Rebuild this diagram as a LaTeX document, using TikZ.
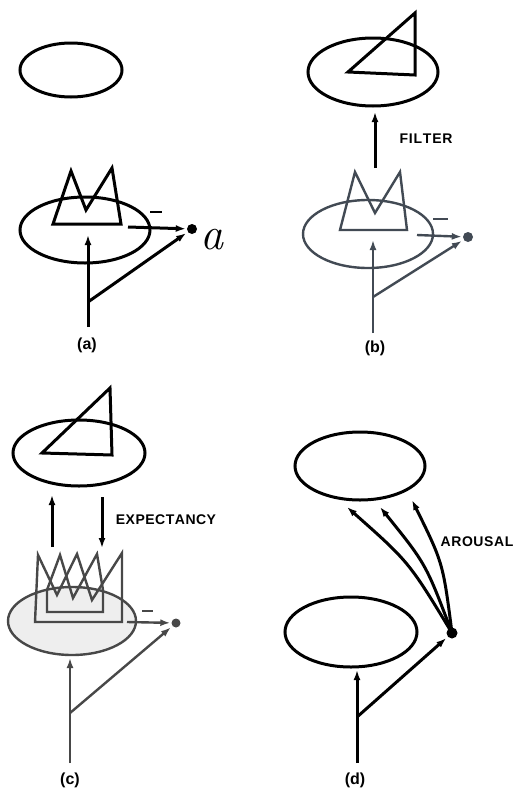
\documentclass[tikz,border=0pt]{standalone}
\usepackage{fontspec}
\setsansfont{Liberation Sans}
\usetikzlibrary{arrows.meta,shapes.geometric}
\definecolor{slate}{RGB}{66,74,84}
\definecolor{cgray}{RGB}{72,72,72}
\definecolor{cfill}{RGB}{238,238,238}
\begin{document}
\begin{tikzpicture}[x=1pt,y=-1pt,
  blk/.style={line width=3pt,black,line join=miter},
  thin/.style={line width=2.4pt,line join=miter},
  arr/.style={-{Latex[length=10pt,width=7pt]}},
  dotnode/.style={circle,fill,inner sep=0pt,minimum size=#1},
  lab/.style={font=\sffamily\bfseries\fontsize{16}{16}\selectfont},
  word/.style={font=\sffamily\bfseries\fontsize{14}{14}\selectfont}]
\useasboundingbox (0,0) rectangle (519,790);
\fill[white] (0,0) rectangle (519,790);

% ---------------- (a) ----------------
\draw[blk] (71,70) ellipse [x radius=51pt, y radius=27pt];
\draw[blk] (85,230) ellipse [x radius=65pt, y radius=33pt];
\draw[blk] (53,224) -- (71,171) -- (86,210) -- (112,168) -- (121,224) -- cycle;
\node[dotnode=10pt] (dotA) at (192,229) {};
\node[font=\itshape\fontsize{46}{46}\selectfont,inner sep=0pt] (letA) at (212,240) {a};
\coordinate (hA) at (128,227);
\coordinate (botA) at (88,327);
\coordinate (brA) at (88,302);
\coordinate (tipA) at (88,235);
\draw[blk,arr,shorten >=1pt] (hA) -- (dotA);
\draw[line width=2.4pt] (150,212) -- (162,212);
\draw[blk,arr] (botA) -- (tipA);
\draw[blk,arr,shorten >=2pt] (brA) -- (dotA);
\node[lab] (la) at (87,345) {(a)};

% ---------------- (b) ----------------
\draw[blk] (373,72) ellipse [x radius=65pt, y radius=34pt];
\draw[blk] (348,72) -- (415,13) -- (415,75) -- cycle;
\coordinate (fB0) at (375,168);
\coordinate (fB1) at (375,112);
\draw[blk,arr] (fB0) -- (fB1);
\node[word] (filter) at (426,139) {F\kern0.8pt I\kern0.8pt L\kern0.8pt T\kern0.8pt E\kern0.8pt R};
\begin{scope}[slate]
\draw[thin] (368,234) ellipse [x radius=65pt, y radius=34pt];
\draw[thin] (340,230) -- (355,172) -- (375,213) -- (400,172) -- (407,230) -- cycle;
\node[dotnode=10pt] (dotB) at (468,237) {};
\coordinate (hB) at (417,235);
\coordinate (botB) at (373,333);
\coordinate (brB) at (373,297);
\coordinate (tipB) at (373,240);
\draw[thin,arr,shorten >=1pt] (hB) -- (dotB);
\draw[line width=2.4pt] (433,219) -- (448,219);
\draw[thin,arr] (botB) -- (tipB);
\draw[thin,arr,shorten >=2pt] (brB) -- (dotB);
\end{scope}
\node[lab] (lb) at (375,348) {(b)};

% ---------------- (c) ----------------
\draw[blk] (79,453) ellipse [x radius=66pt, y radius=33pt];
\draw[blk] (42,453) -- (110,388) -- (112,455) -- cycle;
\coordinate (uC0) at (52,547);
\coordinate (uC1) at (52,495);
\coordinate (dC0) at (102,497);
\coordinate (dC1) at (102,548);
\draw[blk,arr] (uC0) -- (uC1);
\draw[blk,arr] (dC0) -- (dC1);
\node[word] (expect) at (166,520) {E\kern0.5pt X\kern0.5pt P\kern0.5pt E\kern0.5pt C\kern0.5pt T\kern0.5pt A\kern0.5pt N\kern0.5pt C\kern0.5pt Y};
\begin{scope}[cgray]
\draw[thin,fill=cfill] (72,621) ellipse [x radius=64pt, y radius=34pt];
\draw[thin] (35,622) -- (38,555) -- (57,595) -- (77,554) -- (92,600) -- (122,553) -- (122,622) -- cycle;
\draw[thin] (47,612) -- (47,590) -- (60,555) -- (73,598) -- (97,554) -- (103,590) -- (103,612) -- cycle;
\node[dotnode=9pt] (dotC) at (176,623) {};
\coordinate (hC) at (127,622);
\coordinate (botC) at (70,763);
\coordinate (brC) at (70,713);
\coordinate (tipC) at (70,658);
\draw[thin,arr,shorten >=1pt] (hC) -- (dotC);
\draw[line width=2.2pt] (142,611) -- (153,611);
\draw[thin,arr] (botC) -- (tipC);
\draw[thin,arr,shorten >=2pt] (brC) -- (dotC);
\end{scope}
\node[lab] (lc) at (70,780) {(c)};

% ---------------- (d) ----------------
\draw[blk] (360,466) ellipse [x radius=65pt, y radius=34pt];
\draw[blk] (351,632) ellipse [x radius=66pt, y radius=35pt];
\node[dotnode=11pt] (dotD) at (452,633) {};
\coordinate (tD1) at (347,507);
\coordinate (tD2) at (380,507);
\coordinate (tD3) at (412,500);
\draw[blk,arr] (dotD.center) .. controls (409,562) .. (tD1);
\draw[blk,arr] (dotD.center) .. controls (426,564) .. (tD2);
\draw[blk,arr] (dotD.center) .. controls (443,563) .. (tD3);
\node[word] (arousal) at (477,542) {A\kern0.6pt R\kern0.6pt O\kern0.6pt U\kern0.6pt S\kern0.6pt A\kern0.6pt L};
\coordinate (botD) at (357,763);
\coordinate (brD) at (357,717);
\coordinate (tipD) at (357,670);
\draw[blk,arr] (botD) -- (tipD);
\draw[blk,arr,shorten >=2pt] (brD) -- (dotD);
\node[lab] (ld) at (355,780) {(d)};
\end{tikzpicture}
\end{document}
